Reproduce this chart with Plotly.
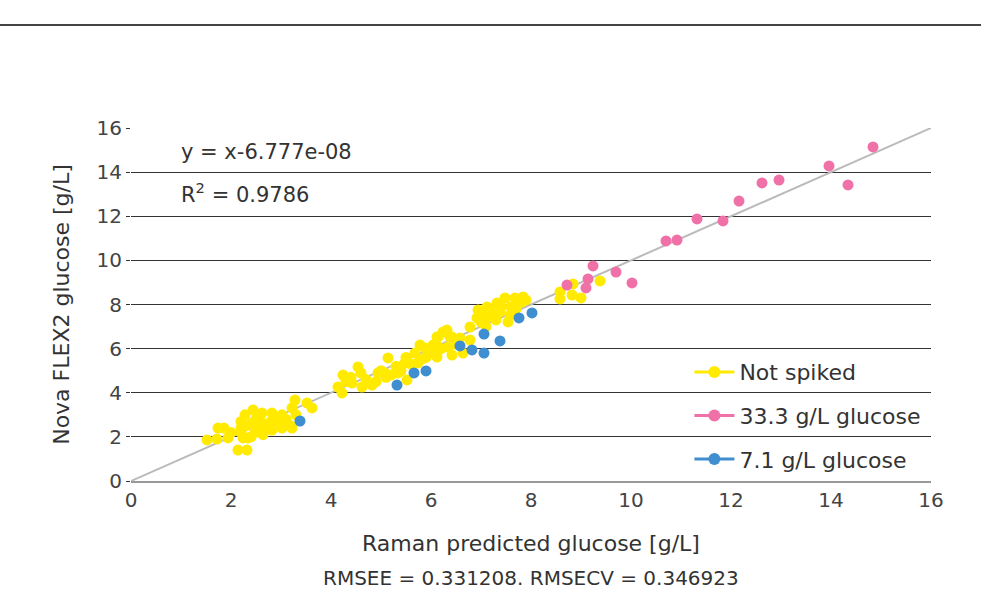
import plotly.graph_objects as go

# Not spiked (yellow)
ns_x = [1.52,1.72,1.74,1.86,1.94,2.14,2.32,2.2,2.28,2.44,2.62,2.82,3.02,3.28,3.52,3.62,3.22,2.48,2.64,2.82,3.02,3.22,2.34,2.24,2.62,2.42,2.88,3.08,2.2,2.3,2.5,2.7,2.9,3.1,3.3,2.4,2.6,2.0,3.2,2.2,2.5,2.8,
        4.14,4.22,4.24,4.54,4.42,4.62,4.82,4.94,5.14,5.08,5.34,5.52,5.48,5.68,5.78,5.88,6.08,6.14,6.32,6.42,5.74,
        4.4,4.7,4.9,5.0,5.2,5.3,5.6,5.5,5.9,6.0,6.2,4.3,4.6,5.1,5.4,5.8,6.1,6.5,
        6.94,7.48,7.68,7.84,7.32,7.12,6.92,7.14,7.38,7.58,6.78,7.54,6.24,6.12,6.38,6.04,6.34,6.58,6.78,6.42,6.64,6.12,
        7.0,7.2,7.4,7.6,7.8,7.0,7.3,7.7,7.9,7.1,
        9.38,8.58,8.84,8.58,8.82,9.0]
ns_y = [1.86,1.9,2.4,2.4,1.95,1.4,1.4,2.4,3.0,3.22,3.08,3.08,3.0,3.67,3.54,3.31,3.31,2.2,2.1,2.31,2.4,2.4,1.95,1.95,2.63,2.63,2.68,2.63,2.2,2.5,2.8,2.5,2.9,2.8,3.0,2.0,2.4,2.2,2.5,2.7,2.5,2.7,
        4.26,3.99,4.8,5.17,4.44,4.26,4.35,4.9,5.58,4.9,4.9,4.58,5.35,5.8,6.16,6.03,6.07,6.53,6.84,6.53,5.35,
        4.7,4.6,4.5,5.0,4.8,5.2,5.3,5.6,5.6,5.8,6.0,4.5,4.9,4.7,5.0,5.5,6.2,6.2,
        7.75,8.3,8.3,8.34,8.07,7.89,7.39,7.43,7.66,7.52,6.98,7.21,6.75,6.53,6.53,6.16,6.07,6.48,6.39,5.71,5.8,5.62,
        7.6,7.7,7.9,7.9,8.1,7.2,7.3,7.8,8.2,7.0,
        9.07,8.57,8.93,8.25,8.43,8.3]

# 33.3 g/L glucose (pink)
pk_x = [14.84,13.96,14.34,12.96,12.62,12.16,11.32,11.84,10.7,10.92,10.02,9.7,9.24,9.14,9.1,8.72]
pk_y = [15.14,14.28,13.42,13.64,13.51,12.69,11.88,11.79,10.88,10.92,8.98,9.47,9.75,9.16,8.75,8.88]

# 7.1 g/L glucose (blue)
bl_x = [3.38,5.32,5.66,5.9,6.58,6.82,7.06,7.06,7.38,7.76,8.02]
bl_y = [2.72,4.35,4.9,4.99,6.12,5.94,6.66,5.8,6.35,7.39,7.62]

fit_x = [0, 16]
fit_y = [0, 16]

YEL = "#FFEA00"
PNK = "#F071A8"
BLU = "#3F8FD0"
FONT = "DejaVu Sans"
TXT = "#333333"

fig = go.Figure()
fig.add_trace(go.Scatter(x=fit_x, y=fit_y, mode="lines", line=dict(color="#BBBBBB", width=2),
                         showlegend=False, hoverinfo="skip"))
for xs, ys, c in [(ns_x, ns_y, YEL), (bl_x, bl_y, BLU), (pk_x, pk_y, PNK)]:
    fig.add_trace(go.Scatter(x=xs, y=ys, mode="markers", marker=dict(color=c, size=11),
                             showlegend=False))
for name, c in [("Not spiked", YEL), ("33.3 g/L glucose", PNK), ("7.1 g/L glucose", BLU)]:
    fig.add_trace(go.Scatter(x=[None], y=[None], mode="lines+markers", name=name, legendgroup=name,
                             marker=dict(color=c, size=12), line=dict(color=c, width=3)))

fig.update_layout(
    width=981, height=592,
    margin=dict(l=131, r=50, t=128, b=111),
    paper_bgcolor="white", plot_bgcolor="white",
    font=dict(family=FONT, color=TXT, size=20),
    showlegend=True,
    legend=dict(x=0.698, y=0.368, xanchor="left", yanchor="top", bgcolor="rgba(0,0,0,0)",
                font=dict(size=22, color=TXT), tracegroupgap=12, itemwidth=40),
    xaxis=dict(range=[0, 16], dtick=2, showgrid=False, zeroline=False,
               showline=True, linecolor="#999999", linewidth=1.5,
               ticks="", tickfont=dict(size=20, color="#444444"),
               title=dict(text="Raman predicted glucose [g/L]", font=dict(size=22, color=TXT), standoff=25)),
    yaxis=dict(range=[0, 16], dtick=2, showgrid=True, gridcolor="#333333", gridwidth=1,
               zeroline=False, showline=False, ticks="outside", ticklen=4, tickcolor="#333333",
               tickfont=dict(size=20, color="#444444"),
               title=dict(text="Nova FLEX2 glucose [g/L]", font=dict(size=22, color=TXT), standoff=20)),
    shapes=[dict(type="line", xref="paper", yref="paper", x0=-131/800, x1=1+50/800,
                 y0=(481-25)/353, y1=(481-25)/353, line=dict(color="#444444", width=2))],
    annotations=[
        dict(text="y = x-6.777e-08", xref="paper", yref="paper", x=48/800, y=(481-152)/353,
             xanchor="left", yanchor="middle", showarrow=False, font=dict(size=21, color=TXT)),
        dict(text="R<sup>2</sup> = 0.9786", xref="paper", yref="paper", x=48/800, y=(481-193)/353,
             xanchor="left", yanchor="middle", showarrow=False, font=dict(size=21, color=TXT)),
        dict(text="RMSEE = 0.331208. RMSECV = 0.346923", xref="paper", yref="paper", x=0.5,
             y=(481-578)/353, xanchor="center", yanchor="middle", showarrow=False,
             font=dict(size=20, color=TXT)),
    ],
)
fig.write_html("out.html", config={"displayModeBar": False},
               post_script="document.body.style.margin='0';document.body.style.overflow='hidden';")
